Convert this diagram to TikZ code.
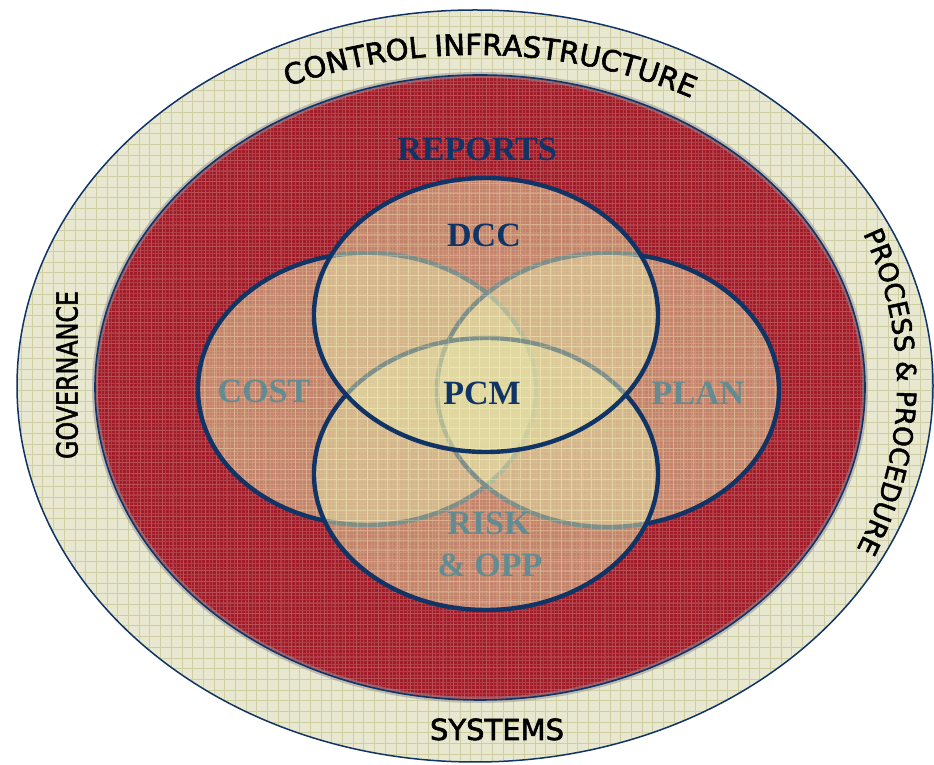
\documentclass[tikz,border=0pt]{standalone}
\usepackage{fontspec}
\usetikzlibrary{decorations.text}

\newfontfamily\ringfamily[FakeBold=2]{DejaVu Sans}
\newfontfamily\vennfamily{Liberation Serif}
\newcommand\ringfont{\ringfamily\fontsize{29pt}{32pt}\selectfont}
\newcommand\sidefont{\ringfamily\fontsize{26.5pt}{30pt}\selectfont}

\definecolor{ringbeige}{RGB}{232,231,208}
\definecolor{ringgrid}{RGB}{206,206,162}
\definecolor{reportred}{RGB}{160,28,40}
\definecolor{redgrid}{RGB}{205,115,120}
\definecolor{vennfill}{RGB}{228,226,168}
\definecolor{venngrid}{RGB}{248,240,185}
\definecolor{lineblue}{RGB}{16,52,102}
\definecolor{mutedteal}{RGB}{98,140,146}
\definecolor{halogrey}{RGB}{150,145,155}

\tikzset{
  vennlabel/.style={font=\vennfamily\bfseries\fontsize{34pt}{40pt}\selectfont, anchor=base},
  ringlabel/.style={font=\ringfamily\fontsize{29pt}{32pt}\selectfont, text=black},
  vennedge/.style={draw=lineblue, line width=4.4pt},
  vennarea/.style={fill=vennfill, fill opacity=0.52},
}

\begin{document}
\begin{tikzpicture}[x=1pt,y=1pt]
\useasboundingbox (0,0) rectangle (934,765);
\fill[white] (0,0) rectangle (934,765);

% outer ring
\fill[ringbeige] (475,379) ellipse [x radius=458pt, y radius=376pt];
\begin{scope}
  \clip (475,379) ellipse [x radius=458pt, y radius=376pt];
  \draw[ringgrid, line width=0.8pt, step=10.7pt] (0,0) grid (934,765);
\end{scope}
\draw[lineblue, line width=1.5pt] (475,379) ellipse [x radius=458pt, y radius=376pt];

% reports disc
\fill[reportred] (480,377.5) ellipse [x radius=385pt, y radius=312.5pt];
\begin{scope}
  \clip (480,377.5) ellipse [x radius=385pt, y radius=312.5pt];
  \draw[redgrid, line width=0.6pt, opacity=0.4, step=3.6pt] (90,60) grid (870,695);
  \draw[redgrid, line width=1pt, opacity=0.3, step=10.8pt] (90,60) grid (870,695);
\end{scope}
\draw[halogrey, line width=6pt, opacity=0.5] (480,377.5) ellipse [x radius=385pt, y radius=312.5pt];
\draw[lineblue, line width=1.6pt] (480,377.5) ellipse [x radius=385pt, y radius=312.5pt];

% four overlapping areas: cost, plan, risk, dcc
\foreach \cx/\cy/\rx/\ry in {367/376/169/136, 608/375/171/137, 486/291/172/136, 486/450/172/137}{
  \fill[vennarea] (\cx,\cy) ellipse [x radius=\rx pt, y radius=\ry pt];
  \begin{scope}
    \clip (\cx,\cy) ellipse [x radius=\rx pt, y radius=\ry pt];
    \draw[venngrid, line width=0.8pt, opacity=0.3, step=10.2pt] (190,140) grid (790,600);
  \end{scope}
  \draw[vennedge] (\cx,\cy) ellipse [x radius=\rx pt, y radius=\ry pt];
}

% labels inside
\node[vennlabel, text=lineblue] (reports) at (477,604) {REPORTS};
\node[vennlabel, text=lineblue] (dcc) at (484,518) {DCC};
\node[vennlabel, text=lineblue] (pcm) at (482,360) {PCM};
\node[vennlabel, text=mutedteal] (cost) at (264,362) {COST};
\node[vennlabel, text=mutedteal] (plan) at (698,360) {PLAN};
\node[vennlabel, text=mutedteal] (risk) at (489,230) {RISK};
\node[vennlabel, text=mutedteal] (opp) at (490,188) {\& OPP};

% ring labels
\path[decorate, decoration={text along path, text align=center,
      text={|\ringfont|CONTROL INFRASTRUCTURE}}]
  ([shift={(150:440pt and 333pt)}]475,377) arc [start angle=150, end angle=25, x radius=440pt, y radius=333pt];
\path[decorate, decoration={text along path, text align=center,
      text={|\sidefont|PROCESS {\&} PROCEDURE}}]
  ([shift={(60:422pt and 385pt)}]475,380) arc [start angle=60, end angle=-62, x radius=422pt, y radius=385pt];
\node[ringlabel, rotate=90] (governance) at (67,390) {\scalebox{0.82}[1]{GOVERNANCE}};
\node[ringlabel, anchor=base] (systems) at (497,25) {SYSTEMS};
\end{tikzpicture}
\end{document}
